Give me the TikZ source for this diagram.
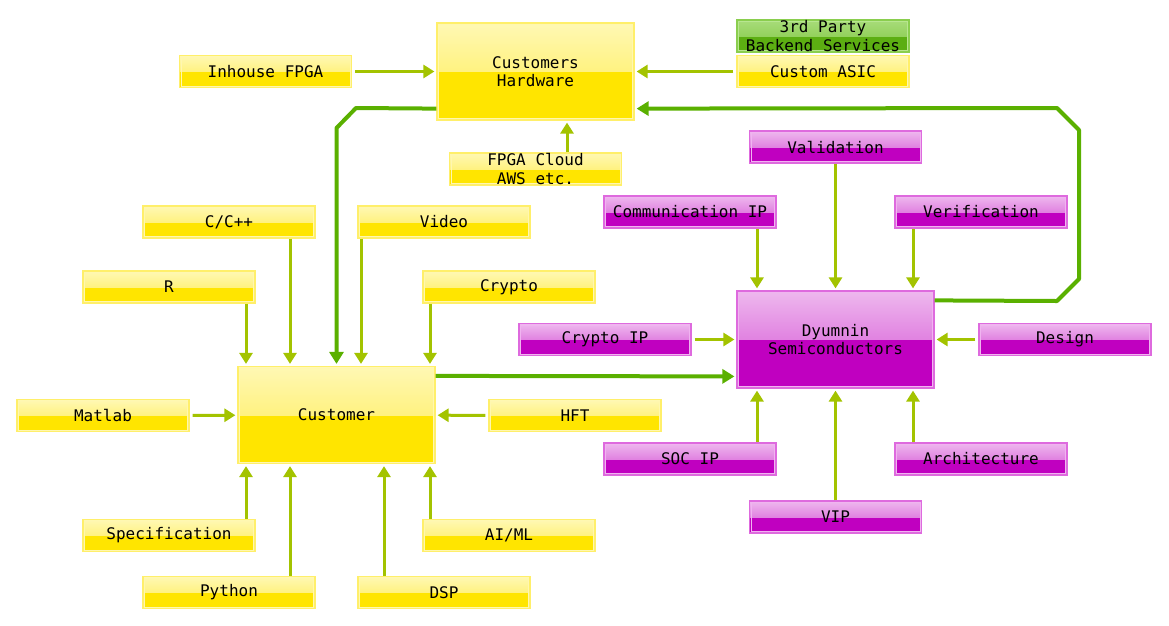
\documentclass[tikz,border=0pt]{standalone}
\usepackage{fontspec}
\setmonofont{DejaVu Sans Mono}
\usetikzlibrary{arrows.meta}
\definecolor{yfill}{HTML}{FFE500}
\definecolor{ytop}{HTML}{FFF8B4}
\definecolor{ymid}{HTML}{FFEC4C}
\definecolor{yline}{HTML}{FFEF6A}
\definecolor{yinner}{HTML}{FFF7B0}
\definecolor{pfill}{HTML}{C000C0}
\definecolor{ptop}{HTML}{EEB8EE}
\definecolor{pmid}{HTML}{D34CD3}
\definecolor{pline}{HTML}{DE6ADE}
\definecolor{pinner}{HTML}{F0B4F0}
\definecolor{gfill}{HTML}{5CAE12}
\definecolor{gtop}{HTML}{A8DC7A}
\definecolor{gmid}{HTML}{7EC63E}
\definecolor{gline}{HTML}{8ACE4E}
\definecolor{ginner}{HTML}{B8E690}
\definecolor{feedcol}{HTML}{A3C300}
\definecolor{linkcol}{HTML}{5AB000}
\tikzset{
  blk/.style={draw=#1line, line width=1.2pt, fill=#1fill, align=center,
    font=\ttfamily\fontsize{16}{18.5}\selectfont, inner sep=0pt,
    minimum width=172pt, minimum height=32pt,
    path picture={
      \shade[top color=#1top, bottom color=#1mid] (path picture bounding box.north west) rectangle (path picture bounding box.east);
      \draw[#1inner, line width=0.6pt] ([shift={(1.6pt,-1.6pt)}]path picture bounding box.north west) rectangle ([shift={(-1.6pt,1.6pt)}]path picture bounding box.south east);
    }},
  ybox/.style={blk=y}, pbox/.style={blk=p}, gbox/.style={blk=g},
  big/.style={minimum width=197pt, minimum height=97pt},
  feed/.style={draw=feedcol, line width=3pt, -{Triangle[width=13pt,length=11pt]}, shorten >=2pt},
  link/.style={draw=linkcol, line width=4pt, line join=round, -{Triangle[width=14pt,length=12pt]}, shorten >=2pt}
}
\begin{document}
\begin{tikzpicture}[x=1pt, y=-1pt]
\useasboundingbox (0,0) rectangle (1169,625);
% customers hardware
\node[ybox, big] (hw) at (535.5,71.5) {Customers\\Hardware};
\node[ybox] (inhouse) at (265.5,71.5) {Inhouse FPGA};
\node[gbox] (party) at (823,36) {3rd Party\\Backend Services};
\node[ybox] (asic) at (823,71.5) {Custom ASIC};
\node[ybox] (cloud) at (535.5,169) {FPGA Cloud\\AWS etc.};
% customer
\node[ybox, big] (cust) at (336.5,415) {Customer};
\node[ybox] (cpp) at (229,222) {C/C++};
\node[ybox] (video) at (444,222) {Video};
\node[ybox] (r) at (169,287) {R};
\node[ybox] (crypto) at (509,287) {Crypto};
\node[ybox] (matlab) at (103,415.5) {Matlab};
\node[ybox] (hft) at (575,415.5) {HFT};
\node[ybox] (spec) at (169,535.5) {Specification};
\node[ybox] (aiml) at (509,535.5) {AI/ML};
\node[ybox] (python) at (229,592.5) {Python};
\node[ybox] (dsp) at (444,592.5) {DSP};
% dyumnin
\node[pbox, big] (dy) at (835.5,339.5) {Dyumnin\\Semiconductors};
\node[pbox] (valid) at (835.5,147) {Validation};
\node[pbox] (comm) at (690,212) {Communication IP};
\node[pbox] (verif) at (981,212) {Verification};
\node[pbox] (cryptoip) at (605,339.5) {Crypto IP};
\node[pbox] (design) at (1065,339.5) {Design};
\node[pbox] (soc) at (690,459) {SOC IP};
\node[pbox] (arch) at (981,459) {Architecture};
\node[pbox] (vip) at (835.5,517) {VIP};
% feeds into customers hardware
\draw[feed, shorten <=3pt] (inhouse) -- (hw);
\draw[feed, shorten <=3pt] (asic) -- (hw);
\draw[feed] ([xshift=31.5pt]cloud.north) -- ([xshift=31.5pt]hw.south);
% feeds into customer
\draw[feed] ([xshift=61pt]cpp.south) -- ([xshift=-46.5pt]cust.north);
\draw[feed] ([xshift=-83pt]video.south) -- ([xshift=24.5pt]cust.north);
\draw[feed] ([xshift=77pt]r.south) -- ([xshift=-90.5pt]cust.north);
\draw[feed] ([xshift=-79pt]crypto.south) -- ([xshift=93.5pt]cust.north);
\draw[feed, shorten <=3pt] (matlab) -- (cust);
\draw[feed, shorten <=3pt] (hft) -- (cust);
\draw[feed] ([xshift=77pt]spec.north) -- ([xshift=-90.5pt]cust.south);
\draw[feed] ([xshift=61pt]python.north) -- ([xshift=-46.5pt]cust.south);
\draw[feed] ([xshift=-60pt]dsp.north) -- ([xshift=47.5pt]cust.south);
\draw[feed] ([xshift=-79pt]aiml.north) -- ([xshift=93.5pt]cust.south);
% feeds into dyumnin
\draw[feed] (valid.south) -- (valid.south |- dy.north);
\draw[feed] ([xshift=67pt]comm.south) -- ([xshift=-78.5pt]dy.north);
\draw[feed] ([xshift=-68pt]verif.south) -- ([xshift=77.5pt]dy.north);
\draw[feed, shorten <=3pt] (cryptoip) -- (dy);
\draw[feed, shorten <=3pt] (design) -- (dy);
\draw[feed] ([xshift=67pt]soc.north) -- ([xshift=-78.5pt]dy.south);
\draw[feed] (vip.north) -- (vip.north |- dy.south);
\draw[feed] ([xshift=-68pt]arch.north) -- ([xshift=77.5pt]dy.south);
% main links
\draw[link] ([yshift=12pt]hw.south west) -- (356,108) -- (336.5,128) -- (cust.north);
\draw[link] ([yshift=-10pt]cust.north east) -- ([yshift=-86pt]dy.north west);
\draw[link] ([yshift=-10pt]dy.north east) -- (1057,301) -- (1079,279) -- (1079,130) -- (1057,108) -- ([yshift=12pt]hw.south east);
\end{tikzpicture}
\end{document}
